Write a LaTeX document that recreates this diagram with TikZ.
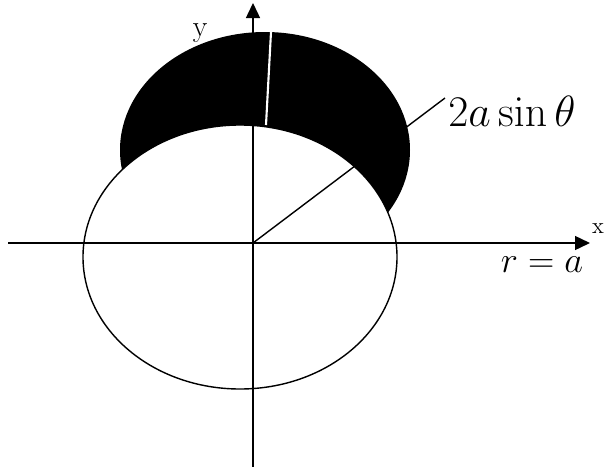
\documentclass[tikz,border=0pt]{standalone}
\usepackage{amsmath}
\usepackage{tikz}
\usetikzlibrary{arrows.meta}

\begin{document}
\begin{tikzpicture}[x=0.02cm,y=-0.02cm,
    axis/.style={line width=0.8pt,-{Triangle[length=0.3cm,width=0.28cm]}},
    curve/.style={line width=0.8pt},
    lbl/.style={inner sep=0pt}]
  \useasboundingbox (0,0) rectangle (606,467);
  % Points
  \coordinate (O) at (253,243);
  \coordinate (xL) at (8,243);
  \coordinate (xR) at (590,243);
  \coordinate (yB) at (253,467);
  \coordinate (yT) at (253,3);
  \coordinate (rayEnd) at (445,98);
  % Axes and ray
  \draw[axis] (xL) -- (xR);
  \draw[axis] (yB) -- (yT);
  \draw[curve] (O) -- (rayEnd);
  % Shaded region, outside r=a and inside r=2a sin(theta)
  \begin{scope}
    \clip (265,150) ellipse [x radius=145, y radius=118];
    \fill[black,even odd rule] (0,0) rectangle (606,467)
      (240,257) ellipse [x radius=157, y radius=132];
  \end{scope}
  % Circle r=a
  \draw[curve] (240,257) ellipse [x radius=157, y radius=132];
  % Axis seen through the shading
  \draw[white,line width=1.2pt] (271,32) -- (266,125);
  % Labels
  \node[lbl,font=\fontsize{24}{28}\selectfont] (lblSin) at (512,111) {$2a\sin\theta$};
  \node[lbl,font=\fontsize{21}{25}\selectfont] (lblR) at (542,265) {$r=a$};
  \node[lbl,font=\fontsize{17}{20}\selectfont] (lblY) at (200,33) {y};
  \node[lbl,font=\fontsize{13}{16}\selectfont] (lblX) at (598,229) {x};
\end{tikzpicture}
\end{document}
